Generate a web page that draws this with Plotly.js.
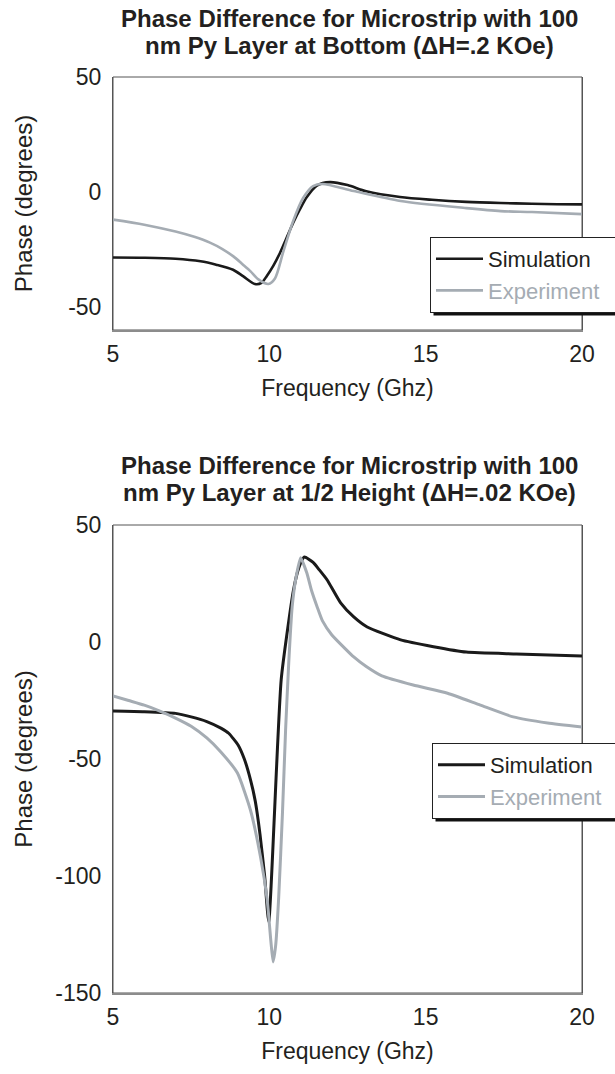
<!DOCTYPE html>
<html>
<head>
<meta charset="utf-8">
<script src="https://cdn.plot.ly/plotly-3.0.1.min.js"></script>
<style>html,body{margin:0;padding:0;background:#fff;overflow:hidden;}#chart{width:615px;height:1074px;}</style>
</head>
<body>
<div id="chart"></div>
<script>
// ---- Data ----
const titleTop = ["Phase Difference for Microstrip with 100", "nm Py Layer at Bottom (\u0394H=.2 KOe)"];
const titleBottom = ["Phase Difference for Microstrip with 100", "nm Py Layer at 1/2 Height (\u0394H=.02 KOe)"];
const xTitle = "Frequency (Ghz)";
const yTitle = "Phase (degrees)";
const seriesNames = ["Simulation", "Experiment"];

const xTickVals = [5, 10, 15, 20];
const xTickText = ["5", "10", "15", "20"];
const yTopTickVals = [-50, 0, 50];
const yTopTickText = ["-50", "0", "50"];
const yBotTickVals = [-150, -100, -50, 0, 50];
const yBotTickText = ["-150", "-100", "-50", "0", "50"];

// Top chart: 100 nm Py layer at bottom
const simTopFreq = [5, 6, 7, 7.8, 8.3, 8.84, 9.17, 9.54, 9.75, 9.92, 10.13, 10.34, 10.55, 10.76, 10.98, 11.2, 11.52, 11.94, 12.5, 13.1, 14.18, 15.2, 16.3, 17.4, 18.4, 19.2, 20];
const simTopPhase = [-28.5, -28.6, -29.0, -30.1, -31.6, -33.8, -36.7, -40.0, -39.5, -36.5, -32, -26.5, -20, -13.5, -7.5, -2.2, 2.8, 4.3, 3.0, 0.3, -2.2, -3.4, -4.3, -4.8, -5.1, -5.3, -5.4];
const expTopFreq = [5, 6, 7, 7.6, 8.1, 8.5, 8.85, 9.15, 9.4, 9.65, 9.97, 10.18, 10.45, 10.76, 11.08, 11.4, 11.7, 12.7, 14.2, 16.3, 17.4, 18.4, 20];
const expTopPhase = [-12.0, -14.2, -17.2, -19.5, -22.0, -24.8, -28.0, -31.5, -34.5, -38.0, -40.0, -37.6, -25.8, -12.7, -2.6, 2.6, 3.5, 0.4, -3.9, -7.0, -8.3, -8.7, -9.6];

// Bottom chart: 100 nm Py layer at 1/2 height
const simBotFreq = [5, 6, 7, 7.5, 8, 8.45, 8.7, 9.0, 9.2, 9.4, 9.55, 9.7, 9.85, 9.98, 10.38, 10.77, 10.95, 11.12, 11.4, 11.6, 11.85, 12.28, 12.7, 13.13, 14.2, 15.25, 16.3, 17.9, 20];
const simBotPhase = [-29.5, -29.8, -30.5, -32, -34, -36.8, -39, -44, -50, -59, -68, -82, -100, -119.6, -16, 22, 32, 36.3, 34, 30.8, 26.5, 16.7, 10.7, 6.4, 0.9, -2, -4.3, -5.1, -6];
const expBotFreq = [5, 5.5, 6, 6.5, 7, 7.5, 8, 8.45, 8.98, 9.4, 9.72, 9.93, 10.05, 10.12, 10.2, 10.3, 10.42, 10.52, 10.62, 10.73, 10.84, 11.0, 11.2, 11.35, 11.53, 11.7, 12.0, 12.4, 12.7, 13.1, 13.6, 14.6, 15.7, 16.75, 17.8, 18.9, 20];
const expBotPhase = [-23, -25, -27, -29.5, -32.5, -36, -41, -47, -56, -72, -92, -110, -128, -136.7, -130, -109, -73, -37.6, -9, 15, 26.5, 36, 29.5, 22, 15, 9, 3, -2.5, -6.4, -10.5, -14.5, -18.4, -21.9, -27, -32, -34.6, -36.3];

// ---- Styling ----
const FONT = "Liberation Sans, Arial, sans-serif";
const TXT = "#231f20";
const SIM_COLOR = "#1a1a1a";
const EXP_COLOR = "#a5acb3";
const PAD = "\u00a0\u00a0\u00a0";

function simName(n) { return n + PAD; }
function expName(n) { return '<span style="color:' + EXP_COLOR + '">' + n + '</span>' + PAD; }

const traces = [
  {x: simTopFreq, y: simTopPhase, xaxis: 'x', yaxis: 'y', name: simName(seriesNames[0]), legend: 'legend',
   mode: 'lines', line: {color: SIM_COLOR, width: 2.6, shape: 'spline', smoothing: 0.8}},
  {x: expTopFreq, y: expTopPhase, xaxis: 'x', yaxis: 'y', name: expName(seriesNames[1]), legend: 'legend',
   mode: 'lines', line: {color: EXP_COLOR, width: 2.6, shape: 'spline', smoothing: 0.8}},
  {x: simBotFreq, y: simBotPhase, xaxis: 'x2', yaxis: 'y2', name: simName(seriesNames[0]), legend: 'legend2',
   mode: 'lines', line: {color: SIM_COLOR, width: 3, shape: 'spline', smoothing: 0.5}},
  {x: expBotFreq, y: expBotPhase, xaxis: 'x2', yaxis: 'y2', name: expName(seriesNames[1]), legend: 'legend2',
   mode: 'lines', line: {color: EXP_COLOR, width: 3, shape: 'spline', smoothing: 0.5}}
];

// page geometry (pixels) -> paper fractions
const L = 113, R = 33, T = 77, B = 81, W = 615, H = 1074;
const PW = W - L - R, PH = H - T - B;
const px2x = p => (p - L) / PW;
const py2y = p => (H - B - p) / PH;

const xAxisBase = {
  range: [5, 20], tickvals: xTickVals, ticktext: xTickText, ticks: '', showgrid: false, zeroline: false,
  showline: true, linecolor: '#8c8c8c', linewidth: 2, mirror: false,
  tickfont: {family: FONT, size: 23, color: TXT}, ticklabelstandoff: 2,
  title: {text: xTitle, font: {family: FONT, size: 23, color: TXT}, standoff: 14},
  fixedrange: true
};
const yAxisBase = {
  ticks: '', showgrid: false, zeroline: false, showline: true, linecolor: '#555', linewidth: 1, mirror: true,
  tickfont: {family: FONT, size: 23, color: TXT}, ticklabelstandoff: 6, fixedrange: true
};

const legendBase = {
  bgcolor: '#ffffff', bordercolor: '#222', borderwidth: 1,
  font: {family: FONT, size: 22, color: TXT},
  xanchor: 'left', yanchor: 'top', itemwidth: 47, tracegroupgap: 0
};

const titleFont = {family: FONT, size: 24, color: TXT};
function titleAnn(text, py) {
  return {text: '<b>' + text + '</b>', xref: 'paper', yref: 'paper', x: px2x(349), y: py2y(py),
          xanchor: 'center', yanchor: 'middle', showarrow: false, font: titleFont};
}

const layout = {
  width: W, height: H,
  margin: {l: L, r: R, t: T, b: B, autoexpand: false},
  paper_bgcolor: '#fff', plot_bgcolor: '#fff',
  font: {family: FONT, color: TXT},
  xaxis: Object.assign({}, xAxisBase, {anchor: 'y', domain: [0, 1]}),
  yaxis: Object.assign({}, yAxisBase, {anchor: 'x', domain: [py2y(330), 1], range: [-60, 50],
    tickvals: yTopTickVals, ticktext: yTopTickText,
    title: {text: yTitle, font: {family: FONT, size: 24, color: TXT}, standoff: 28}}),
  xaxis2: Object.assign({}, xAxisBase, {anchor: 'y2', domain: [0, 1]}),
  yaxis2: Object.assign({}, yAxisBase, {anchor: 'x2', domain: [0, py2y(525)], range: [-150, 50],
    tickvals: yBotTickVals, ticktext: yBotTickText,
    title: {text: yTitle, font: {family: FONT, size: 24, color: TXT}, standoff: 15}}),
  legend: Object.assign({}, legendBase, {x: px2x(430), y: py2y(237)}),
  legend2: Object.assign({}, legendBase, {x: px2x(432), y: py2y(743)}),
  showlegend: true,
  shapes: [
    {type: 'rect', xref: 'x domain', yref: 'y domain', x0: 0, x1: 1, y0: 0, y1: 1, line: {color: '#555', width: 1}, layer: 'below'},
    {type: 'rect', xref: 'x2 domain', yref: 'y2 domain', x0: 0, x1: 1, y0: 0, y1: 1, line: {color: '#555', width: 1}, layer: 'below'}
  ],
  annotations: [
    titleAnn(titleTop[0], 19), titleAnn(titleTop[1], 46),
    titleAnn(titleBottom[0], 465), titleAnn(titleBottom[1], 493)
  ]
};

const gd = document.getElementById('chart');
Plotly.newPlot(gd, traces, layout, {staticPlot: true, displayModeBar: false}).then(function () {
  // drop shadow under each legend box, sized from the drawn legend
  const shadows = [];
  const root = gd.getBoundingClientRect();
  gd.querySelectorAll('.infolayer > g[class^="legend"] > rect.bg').forEach(function (r) {
    const b = r.getBoundingClientRect();
    const x0 = b.left - root.left + 3, y0 = b.top - root.top + 3;
    const x1 = b.right - root.left + 3, y1 = b.bottom - root.top + 3;
    shadows.push({type: 'rect', xref: 'paper', yref: 'paper', x0: px2x(x0), x1: px2x(x1),
                  y0: py2y(y1), y1: py2y(y0), fillcolor: '#111', line: {width: 0}, layer: 'above'});
  });
  if (shadows.length) {
    Plotly.relayout(gd, {shapes: layout.shapes.concat(shadows)});
  }
});
</script>
</body>
</html>
